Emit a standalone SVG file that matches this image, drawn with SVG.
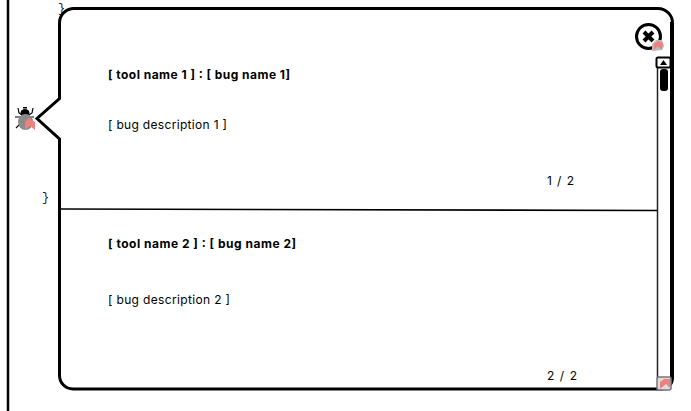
<svg xmlns="http://www.w3.org/2000/svg" width="691" height="411" viewBox="0 0 691 411">
<style>
.b{font-family:"Inter","Noto Sans",sans-serif;font-size:12px;font-weight:700;fill:#000}
.r{font-family:"Inter","Noto Sans",sans-serif;font-size:12px;font-weight:400;fill:#000}
.c{font-family:"Liberation Mono",monospace;font-size:12px;fill:#1a1a3a}
.o{fill:#fff;stroke:#000;stroke-width:3}
.rb{fill:#f08080}
</style>
<rect width="691" height="411" fill="#fff"/>
<g id="background">
<line x1="8" y1="0" x2="8" y2="411" stroke="#000" stroke-width="2.500"/>
<text class="c" x="58" y="12">}</text>
<text class="c" x="42" y="201">}</text>
</g>
<g id="popup">
<path class="o" d="M73 8.500H658A14.500 14.500 0 0 1 672.500 23V378A11 11 0 0 1 662 389H73A13.500 13.500 0 0 1 59.500 375.500V139L37 118.500L59.500 98.500V23A14.500 14.500 0 0 1 73 8.500Z"/>
<line x1="671.500" y1="22" x2="671.500" y2="378" stroke="#000" stroke-width="3"/>
<line x1="60" y1="209" x2="657" y2="210.500" stroke="#000" stroke-width="1.600"/>
</g>
<g id="bug-1">
<text class="b" x="108" y="79" textLength="182">[ tool name 1 ] : [ bug name 1]</text>
<text class="r" x="108" y="129" textLength="119">[ bug description 1 ]</text>
<text class="r" x="547" y="185" textLength="27">1 / 2</text>
</g>
<g id="bug-2">
<text class="b" x="108" y="248" textLength="188">[ tool name 2 ] : [ bug name 2]</text>
<text class="r" x="108" y="304" textLength="122">[ bug description 2 ]</text>
<text class="r" x="547" y="380" textLength="30">2 / 2</text>
</g>
<g id="bug-icon">
<ellipse cx="25" cy="113" rx="4.500" ry="4" fill="#000"/>
<rect x="23" y="107" width="4" height="1.500" fill="#000"/>
<path d="M18 108l1 5l3 2M33 108l-1 5l-3 2M15 117h6M21 123l-5 5M34 117h-3" stroke="#000" stroke-width="1.200" fill="none"/>
<ellipse cx="25.500" cy="122" rx="7.500" ry="8" fill="#8a8a8a"/>
<path class="rb" d="M25 130V122L29 118L35 122V130L30 126Z"/>
</g>
<g id="close-button">
<circle cx="648.500" cy="36.500" r="12" fill="#fff" stroke="#000" stroke-width="3"/>
<path d="M644 32L653 41M653 32L644 41" stroke="#000" stroke-width="4"/>
<path d="M652 51V44L656 40H662L664 46L662 50Z" fill="#bbb"/>
<path class="rb" d="M654 50V44L658 41L663 43L662 50L658 46Z"/>
</g>
<g id="scrollbar">
<line x1="657.500" y1="57" x2="657.500" y2="379" stroke="#222" stroke-width="1.500"/>
<rect x="656.500" y="57.500" width="14" height="10" rx="1.500" fill="#fff" stroke="#000" stroke-width="2"/>
<path d="M660 65L663.500 60L667 65Z" fill="#000"/>
<rect x="660" y="69" width="8" height="22" rx="3" fill="#000"/>
<rect x="657" y="377" width="14" height="13" rx="2" fill="#ddd" stroke="#777" stroke-width="1.500"/>
<path class="rb" d="M660 389V382L664 379H670V388L666 384Z"/>
</g>
</svg>
